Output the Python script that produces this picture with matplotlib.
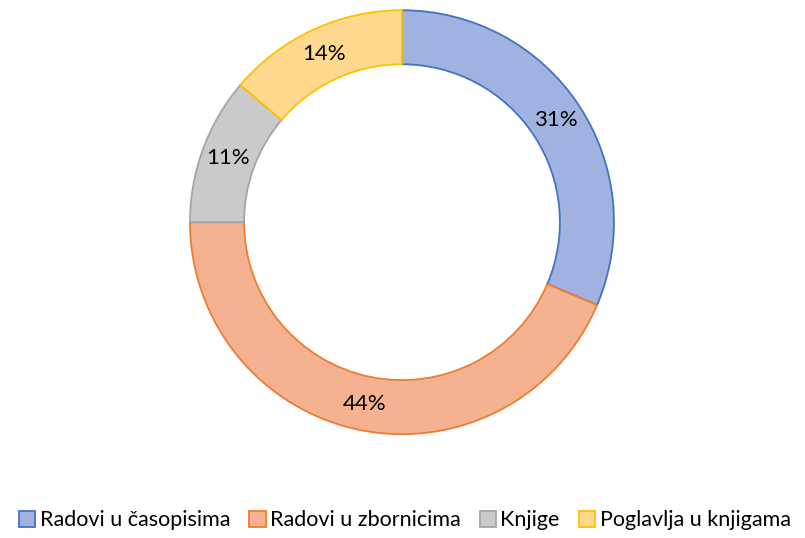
import matplotlib.pyplot as plt
from matplotlib.patches import Patch

labels = ["Radovi u časopisima", "Radovi u zbornicima", "Knjige", "Poglavlja u knjigama"]
shares = [31.4, 43.6, 11.2, 13.8]

fills = ["#A0B2DF", "#F5B291", "#CACACA", "#FFD98E"]
edges = ["#4472C4", "#ED7D31", "#A5A5A5", "#FFC000"]

plt.rcParams["font.family"] = ["Lato", "DejaVu Sans"]

fig = plt.figure(figsize=(8.05, 5.38), dpi=100)
ax = fig.add_axes([0.236, 0.193, 0.5267, 0.788])

wedges, texts, autotexts = ax.pie(
    shares,
    startangle=90,
    counterclock=False,
    colors=fills,
    autopct="%.0f%%",
    pctdistance=0.873,
    radius=1.0,
    wedgeprops=dict(width=0.255, linewidth=1.3),
    textprops=dict(fontsize=16, color="black"),
)
for w, ec in zip(wedges, edges):
    w.set_edgecolor(ec)

ax.set_xlim(-1, 1)
ax.set_ylim(-1, 1)
ax.set_aspect("equal")
ax.axis("off")

handles = [Patch(facecolor=f, edgecolor=e, linewidth=1.3) for f, e in zip(fills, edges)]
fig.legend(handles, labels, loc="center", bbox_to_anchor=(0.503, 0.033), ncol=4,
           frameon=False, fontsize=15.5, handlelength=0.75, handleheight=0.75,
           handletextpad=0.2, columnspacing=0.9)

fig.savefig("out.png", dpi=100)
